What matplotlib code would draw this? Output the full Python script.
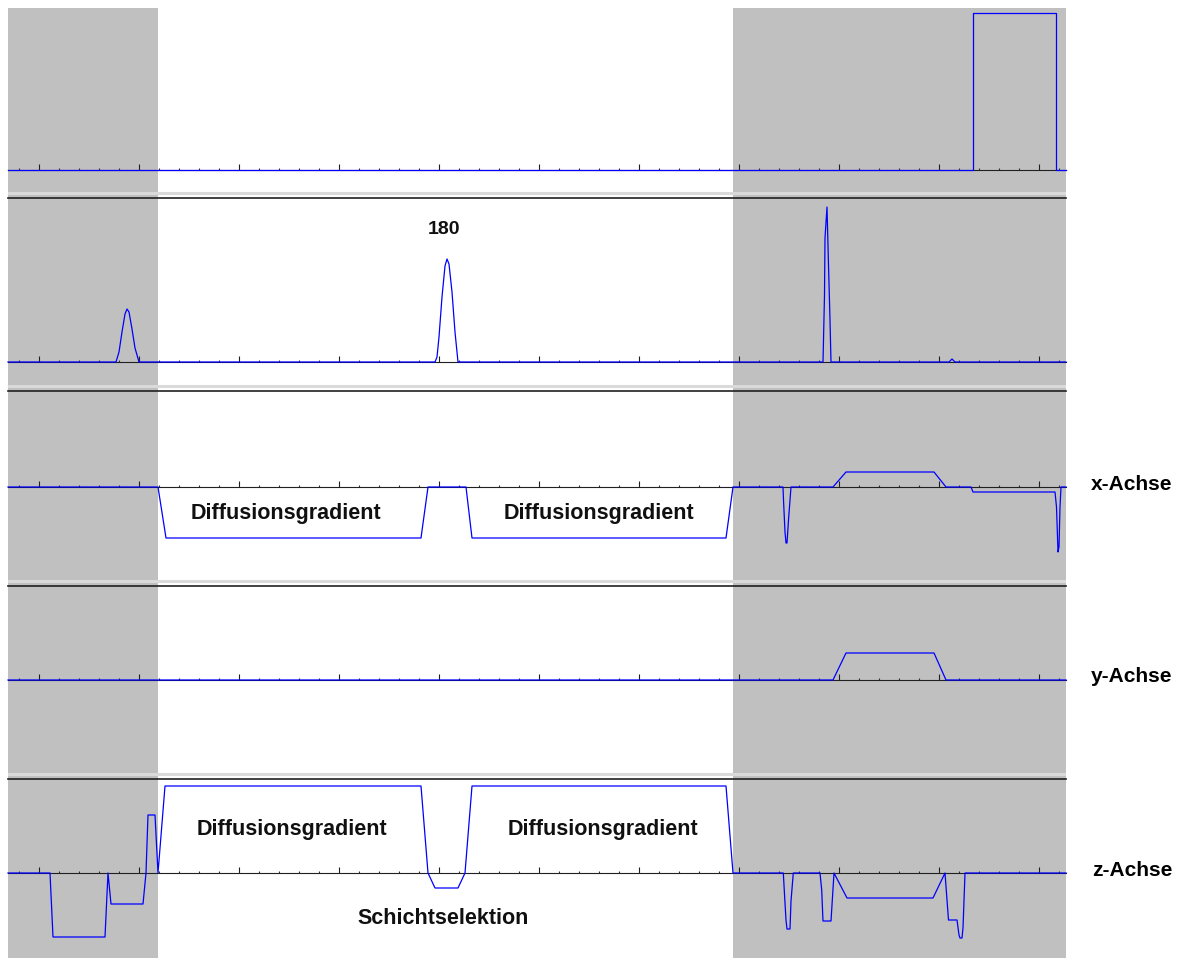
import numpy as np
import matplotlib
matplotlib.use("Agg")
import matplotlib.pyplot as plt

plt.rcParams['font.family'] = ['Liberation Sans', 'DejaVu Sans']

# Zeitachse in ms (Hauptstriche alle 10 ms)
t_min, t_max = -3.1, 102.7
t_grau_links = 11.9     # Ende des linken grauen Bereichs
t_grau_rechts = 69.4    # Beginn des rechten grauen Bereichs

# Zeile 1: ADC / Auslese
adc_t = [t_min, 93.4, 93.4, 101.7, 101.7, t_max]
adc_a = [0, 0, 157, 157, 0, 0]

# Zeile 2: HF-Pulse (90, 180, Refokussierung, kleiner Puls)
hf_t = [t_min, 7.7, 8.0, 8.3, 8.6, 8.8, 9.0, 9.3, 9.6, 10.0,
        39.6, 39.8, 40.0, 40.3, 40.6, 40.8, 41.0, 41.3, 41.6, 41.9,
        78.4, 78.55, 78.6, 78.8, 78.95, 79.1, 79.2,
        91.0, 91.3, 91.6, t_max]
hf_a = [0, 0, 10, 30, 48, 53, 50, 33, 14, 0,
        0, 5, 25, 65, 96, 103, 98, 70, 30, 0,
        0, 67, 124, 155, 97, 42, 0,
        0, 3, 0, 0]

# Zeile 3: x-Achse
gx_t = [t_min, 11.9, 12.7, 38.2, 38.9, 42.7, 43.3, 68.7, 69.4,
        74.4, 74.45, 74.6, 74.7, 74.8, 74.95, 75.2,
        79.4, 80.7, 89.5, 90.7,
        93.2, 93.4, 101.6, 101.75, 101.9, 102.0, 102.1, 102.2, t_max]
gx_a = [0, 0, -51, -51, 0, 0, -51, -51, 0,
        0, -13, -45, -56, -56, -33, 0,
        0, 15, 15, 0,
        0, -5, -5, -20, -65, -60, -20, 0, 0]

# Zeile 4: y-Achse
gy_t = [t_min, 79.4, 80.7, 89.5, 90.7, t_max]
gy_a = [0, 0, 27, 27, 0, 0]

# Zeile 5: z-Achse
gz_t = [t_min, 1.1, 1.4, 6.6, 6.9, 7.2, 10.4, 10.7, 10.9, 11.6, 11.9, 12.6,
        38.2, 38.9, 39.6, 41.9, 42.6, 43.3, 68.7, 69.4,
        74.43, 74.6, 74.7, 74.8, 75.1, 75.2, 75.43,
        78.1, 78.27, 78.4, 79.2, 79.5,
        80.8, 89.4, 90.6, 90.8, 90.95, 91.8, 92.0, 92.1, 92.3, 92.4, 92.6, t_max]
gz_a = [0, 0, -64, -64, 0, -31, -31, 0, 58, 58, 0, 87,
        87, 0, -15, -15, 0, 87, 87, 0,
        0, -30, -47, -56, -56, -28, 0,
        0, -17, -48, -48, 0,
        -25, -25, 0, -27, -47, -47, -62, -65, -65, -55, 0, 0]

zeilen_t = [adc_t, hf_t, gx_t, gy_t, gz_t]
zeilen_a = [adc_a, hf_a, gx_a, gy_a, gz_a]
achsen_namen = ['', '', 'x-Achse', 'y-Achse', 'z-Achse']

# Layout in Pixeln: (oben, unten, Nulllinie)
W, H = 1178, 958
zeilen_px = [(8, 198, 170), (198, 391, 362), (391, 586, 487),
             (586, 779, 680), (779, 958, 873)]
x0_px, x1_px = 8, 1066

blau = '#0000ff'
grau = '#c0c0c0'

fig = plt.figure(figsize=(W / 100, H / 100), dpi=100)
fig.patch.set_facecolor('white')

axes = []
for i, (oben, unten, null) in enumerate(zeilen_px):
    ax = fig.add_axes([x0_px / W, 1 - unten / H, (x1_px - x0_px) / W, (unten - oben) / H])
    ax.set_xlim(t_min, t_max)
    ax.set_ylim(null - unten, null - oben)
    ax.set_facecolor('white')
    # graue Bereiche
    ax.axvspan(t_min, t_grau_links, color=grau, lw=0, zorder=0)
    ax.axvspan(t_grau_rechts, t_max, color=grau, lw=0, zorder=0)
    # hellgraue Trennlinie unten
    if i < 4:
        ax.axhline(null - unten + 5, color='#dadada', lw=2.2, zorder=1)
    # Nulllinie mit Strichen nach oben
    for s in ['left', 'right']:
        ax.spines[s].set_visible(False)
    ax.spines['bottom'].set_position(('data', 0))
    ax.spines['bottom'].set_color('#202020')
    ax.spines['bottom'].set_linewidth(0.8)
    ax.spines['bottom'].set_zorder(2)
    if i == 0:
        ax.spines['top'].set_visible(False)
    else:
        ax.spines['top'].set_color('#202020')
        ax.spines['top'].set_linewidth(1.2)
    ax.set_xticks(np.arange(0, 101, 10))
    ax.set_xticks(np.arange(-2, 103, 2), minor=True)
    ax.tick_params(axis='x', which='major', direction='in', length=4, width=0.8,
                   color='#202020', labelbottom=False, top=False)
    ax.tick_params(axis='x', which='minor', direction='in', length=1.6, width=0.8,
                   color='#303030', top=False)
    ax.yaxis.set_visible(False)
    # Kurve
    ax.plot(zeilen_t[i], zeilen_a[i], color=blau, lw=0.9, zorder=3, clip_on=False)
    if achsen_namen[i]:
        ax.text(109.3, 3, achsen_namen[i], ha='center', va='center', fontsize=15,
                fontweight='bold', clip_on=False)
    axes.append(ax)

# Beschriftungen
txt = dict(ha='center', va='center', fontsize=15.5, fontweight='bold', color='#101010')
axes[1].text(40.5, 133, '180', **dict(txt, fontsize=14))
axes[2].text(24.7, -26, 'Diffusionsgradient', **txt)
axes[2].text(56.0, -27, 'Diffusionsgradient', **txt)
axes[4].text(25.3, 43, 'Diffusionsgradient', **txt)
axes[4].text(56.4, 43, 'Diffusionsgradient', **txt)
axes[4].text(40.4, -45, 'Schichtselektion', **txt)

plt.savefig('out.png', dpi=100)
